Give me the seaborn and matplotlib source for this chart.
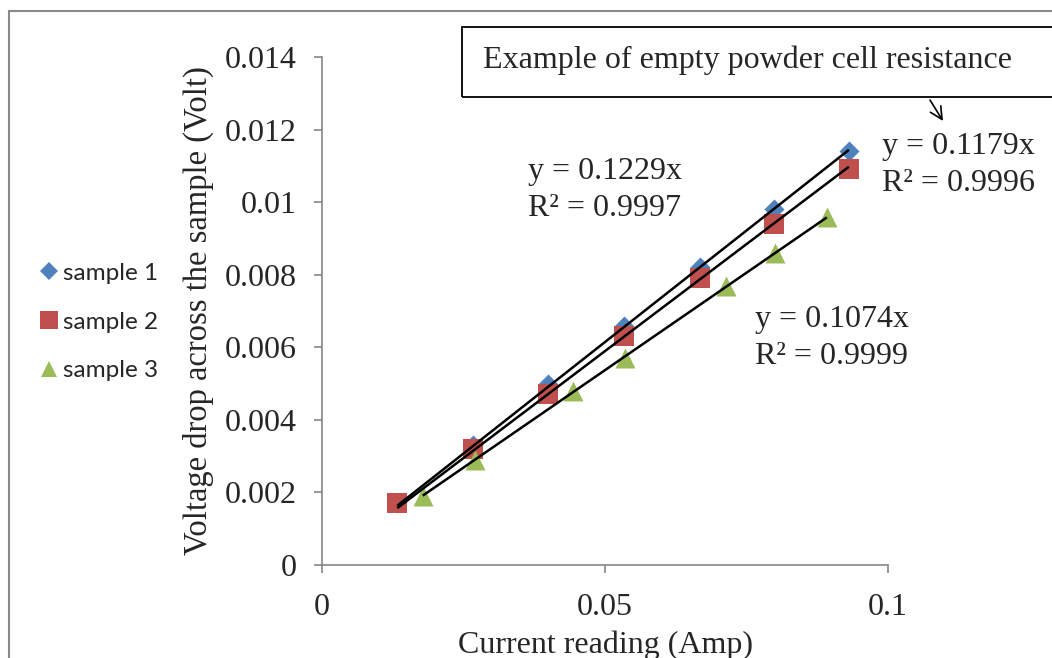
import numpy as np
import pandas as pd
import seaborn as sns
import matplotlib.pyplot as plt
from matplotlib.patches import Rectangle
from matplotlib.lines import Line2D

# Measured current (A) and voltage drop (V) for three samples
current_1 = [0.0133, 0.0266, 0.0399, 0.0534, 0.0668, 0.0799, 0.0931]
voltage_1 = [0.0017, 0.0033, 0.0050, 0.0066, 0.0082, 0.0098, 0.0114]
current_2 = [0.0133, 0.0266, 0.0399, 0.0534, 0.0668, 0.0799, 0.0931]
voltage_2 = [0.0017, 0.0032, 0.0047, 0.0063, 0.0079, 0.0094, 0.0109]
current_3 = [0.0178, 0.0270, 0.0443, 0.0535, 0.0714, 0.0800, 0.0892]
voltage_3 = [0.0019, 0.0029, 0.0048, 0.0057, 0.0077, 0.0086, 0.0096]

sample_names = ["sample 1", "sample 2", "sample 3"]
# Linear trendlines forced through the origin
slopes = [0.1229, 0.1179, 0.1074]
r_squared = [0.9997, 0.9996, 0.9999]

x_ticks = [0, 0.05, 0.1]
x_tick_labels = ["0", "0.05", "0.1"]
y_ticks = [0, 0.002, 0.004, 0.006, 0.008, 0.01, 0.012, 0.014]
y_tick_labels = ["0", "0.002", "0.004", "0.006", "0.008", "0.01", "0.012", "0.014"]

df = pd.concat([
    pd.DataFrame({"current": c, "voltage": v, "sample": n})
    for c, v, n in zip([current_1, current_2, current_3],
                       [voltage_1, voltage_2, voltage_3], sample_names)
], ignore_index=True)

colors = {"sample 1": "#4F81BD", "sample 2": "#C0504D", "sample 3": "#9BBB59"}
markers = {"sample 1": "D", "sample 2": "s", "sample 3": "^"}
sizes = {"sample 1": 104, "sample 2": 207, "sample 3": 207}

sns.set_theme(style="white")
plt.rcParams["font.family"] = ["Liberation Serif", "DejaVu Serif"]

W, H = 1052, 658
fig = plt.figure(figsize=(W / 100, H / 100), dpi=100)
ax = fig.add_axes([322 / W, 1 - 565 / H, 566 / W, 508 / H])

for name in sample_names:
    sub = df[df["sample"] == name]
    sns.scatterplot(data=sub, x="current", y="voltage", marker=markers[name],
                    color=colors[name], s=sizes[name], linewidth=0,
                    ax=ax, zorder=3, legend=False)

for name, k in zip(sample_names, slopes):
    sub = df[df["sample"] == name]
    xs = np.array([sub["current"].min(), sub["current"].max()])
    ax.plot(xs, k * xs, color="black", lw=1.8, zorder=4, solid_capstyle="butt")

ax.set_xlim(0, 0.1)
ax.set_ylim(0, 0.014)
ax.set_xticks(x_ticks)
ax.set_xticklabels(x_tick_labels)
ax.set_yticks(y_ticks)
ax.set_yticklabels(y_tick_labels)
ax.tick_params(axis="both", labelsize=23, length=6, width=1.2,
               color="#868686", direction="out", left=True, bottom=True)
ax.tick_params(axis="y", pad=12)
ax.tick_params(axis="x", pad=14)
for side in ["top", "right"]:
    ax.spines[side].set_visible(False)
for side in ["left", "bottom"]:
    ax.spines[side].set_color("#868686")
    ax.spines[side].set_linewidth(1.2)
ax.grid(False)
ax.set_facecolor("none")

ax.set_xlabel("Current reading (Amp)", fontsize=23, labelpad=6)
ax.set_ylabel("Voltage drop across the sample (Volt)", fontsize=23.5, labelpad=8)


def px(xp, yp):
    return ((xp - 322) / 5660, (565 - yp) / 36286)


label_pos = [(528, 190), (882, 165), (755, 338)]
for (xp, yp), k, r2 in zip(label_pos, slopes, r_squared):
    ax.text(*px(xp, yp), f"y = {k:.4f}x\nR² = {r2:.4f}", fontsize=23,
            ha="left", va="center", linespacing=1.32, zorder=5)

# Outer chart frame
fig.patches.append(Rectangle((9 / W, -0.1), 1.2, 1 - 11 / H + 0.1,
                             transform=fig.transFigure, fill=False,
                             edgecolor="#8a8a8a", lw=1.5))
# Callout box
fig.patches.append(Rectangle((462 / W, 1 - 97 / H), 1.0, 70 / H,
                             transform=fig.transFigure, fill=False,
                             edgecolor="black", lw=1.3))
fig.text(483 / W, 1 - 60 / H, "Example of empty powder cell resistance",
         fontsize=23, ha="left", va="center")
ax.annotate("", xy=(943, H - 121), xycoords="figure pixels",
            xytext=(930, H - 100), textcoords="figure pixels",
            arrowprops=dict(arrowstyle="->", color="black", lw=1.2,
                            mutation_scale=22, shrinkA=0, shrinkB=0))

handles = [Line2D([], [], linestyle="none", marker=markers[n], color=colors[n],
                  markersize=ms, markeredgewidth=0)
           for n, ms in zip(sample_names, [9.2, 13, 12])]
fig.legend(handles, sample_names, loc="center left",
           bbox_to_anchor=(27 / W, 1 - 322 / H), frameon=False,
           prop={"family": "Lato", "size": 17.5}, handlelength=0.8,
           handletextpad=0.2, labelspacing=1.15, borderpad=0)

fig.savefig("out.png", dpi=100)
